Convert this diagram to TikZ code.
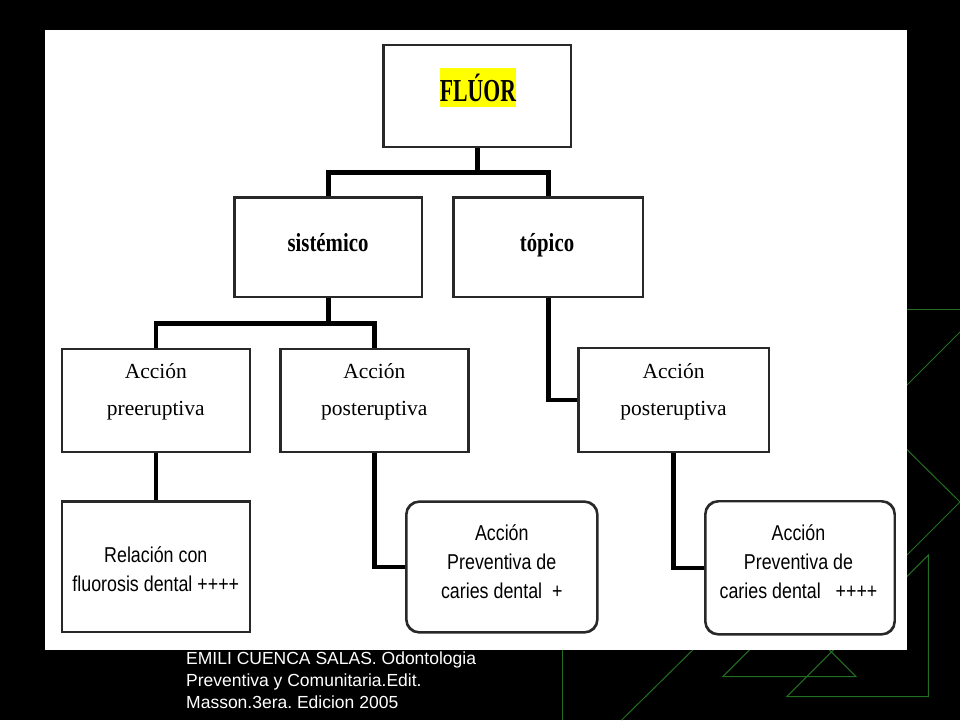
\documentclass[tikz,border=0pt]{standalone}
\usepackage{fontspec}
\setmainfont{Liberation Serif}
\newfontfamily\boldnarrow[FakeStretch=0.80]{Liberation Serif Bold}
\newfontfamily\titlefont[FakeStretch=0.68]{Liberation Serif Bold}
\newfontfamily\narrowsans[FakeStretch=0.83]{Liberation Sans}
\newfontfamily\capfont{Liberation Sans}
\definecolor{bggreen}{RGB}{34,110,34}
\definecolor{hiyellow}{RGB}{255,255,0}
\definecolor{borderc}{RGB}{40,40,40}
\tikzset{
  conn/.style={line width=4.6pt, line join=miter, black},
  box/.style={draw=borderc, line width=1.6pt, fill=white, inner sep=0pt},
  rbox/.style={box, rounded corners=13pt},
  deco/.style={draw=bggreen, line width=1pt},
  serifbody/.style={font=\fontsize{21.5}{37}\selectfont, align=center, inner sep=0pt},
  sansbody/.style={font=\narrowsans\fontsize{21.5}{29}\selectfont, align=center, inner sep=0pt},
  headtext/.style={inner sep=0pt, anchor=base, font=\boldnarrow\fontsize{26}{26}\selectfont},
}
\begin{document}
\frenchspacing
\begin{tikzpicture}[x=1pt,y=-1pt]
\useasboundingbox (0,0) rectangle (960,720);
\fill[black] (0,0) rectangle (960,720);
% decorative green lines
\draw[deco] (907,309) -- (960,309);
\draw[deco] (880,412) -- (960,332);
\draw[deco] (880,423) -- (960,502) -- (880,582);
\draw[deco] (786.7,696.7) -- (928.3,696.7) -- (928.3,555) -- cycle;
\draw[deco] (722.7,676.7) -- (856,676.7) -- (789.3,610) -- cycle;
\draw[deco] (562.7,640) -- (562.7,720);
\draw[deco] (713,630) -- (621.7,720);
% white panel
\fill[white] (45,30) rectangle (907,650);
% coordinates for bars
\coordinate (bar1) at (0,172.3);
\coordinate (bar2) at (0,323.3);
% boxes
\node[box, minimum width=186.7pt, minimum height=101.7pt] (fluor) at (477.35,96) {};
\node[box, minimum width=186.7pt, minimum height=99pt] (sist) at (328.35,247.2) {};
\node[box, minimum width=188.7pt, minimum height=99pt] (topico) at (548.35,247.2) {};
\node[box, minimum width=187pt, minimum height=102.4pt] (prea) at (155.8,400.5) {};
\node[box, minimum width=187.3pt, minimum height=102.4pt] (posta) at (374.35,400.5) {};
\node[box, minimum width=189.3pt, minimum height=103.4pt] (postb) at (673.65,400) {};
\node[box, minimum width=187pt, minimum height=130pt] (rel) at (155.8,566.7) {};
\node[rbox, minimum width=190.3pt, minimum height=130pt] (rbox1) at (501.85,567) {};
\node[rbox, minimum width=188.6pt, minimum height=132.3pt] (rbox2) at (800,567.8) {};
% connectors
\draw[conn] (fluor.south) -- (fluor.south |- bar1) -| (sist.north);
\draw[conn] (fluor.south |- bar1) -| (topico.north);
\draw[conn] (sist.south) -- (sist.south |- bar2) -| (prea.north);
\draw[conn] (sist.south |- bar2) -| (posta.north);
\draw[conn] (prea.south) -- (rel.north);
\draw[conn] (posta.south) |- (rbox1.west);
\draw[conn] (topico.south) |- (postb.west);
\draw[conn] (postb.south) |- (rbox2.west);
% redraw box borders on top of connector ends
\foreach \n in {fluor,sist,topico,prea,posta,postb,rel}{
  \draw[draw=borderc, line width=1.6pt] (\n.north west) rectangle (\n.south east);
}
\draw[draw=borderc, line width=1.6pt, rounded corners=13pt] (rbox1.north west) rectangle (rbox1.south east);
\draw[draw=borderc, line width=1.6pt, rounded corners=13pt] (rbox2.north west) rectangle (rbox2.south east);
% texts
\node[fill=hiyellow, minimum width=76pt, minimum height=39.6pt, inner sep=0pt,
      font=\titlefont\fontsize{32}{32}\selectfont] (fluort) at (478,87.5) {FLÚOR};
\node[headtext] (sistt) at (328,251) {sistémico};
\node[headtext] (topicot) at (547,251) {tópico};
\node[serifbody] (preat) at (155.8,392) {Acción\\preeruptiva};
\node[serifbody] (postat) at (374.3,392) {Acción\\posteruptiva};
\node[serifbody] (postbt) at (673.6,392) {Acción\\posteruptiva};
\node[sansbody] (relt) at (155.8,569) {Relación con\\fluorosis dental ++++};
\node[sansbody] (rbox1t) at (501.8,562) {Acción\\Preventiva de\\caries dental\ \ +};
\node[sansbody] (rbox2t) at (798.5,562) {Acción\\Preventiva de\\caries dental\ \ \ ++++};
% caption
\node[anchor=north west, inner sep=0pt, text=white, align=left,
      font=\capfont\fontsize{17.5}{22}\selectfont] (cap) at (186,652)
  {EMILI CUENCA SALAS. Odontologia\\Preventiva y Comunitaria.Edit.\\Masson.3era. Edicion 2005};
\end{tikzpicture}
\end{document}
